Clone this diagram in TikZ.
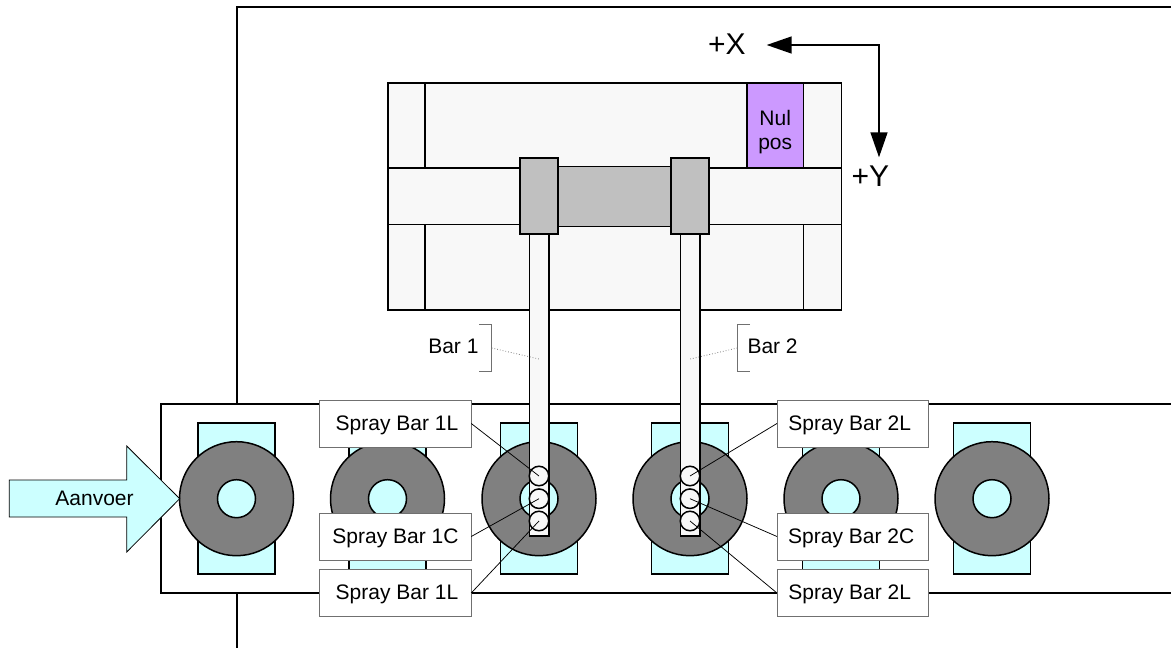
\documentclass[tikz,border=0pt]{standalone}
\usepackage{fontspec}
\setmainfont{Liberation Sans}
\usetikzlibrary{arrows.meta}
\tikzset{
  thick line/.style={line width=1.5pt,draw=black},
  block/.style={thick line,rectangle,inner sep=0pt,outer sep=0pt},
  cyanrect/.style={block,fill=cyanfill,minimum width=77pt,minimum height=151pt},
  disc/.style={thick line,circle,inner sep=0pt,outer sep=0pt,fill=discgray,minimum size=114pt},
  hole/.style={thick line,circle,inner sep=0pt,outer sep=0pt,fill=cyanfill,minimum size=38pt},
  spray/.style={thick line,circle,inner sep=0pt,outer sep=0pt,fill=lightfill,minimum size=19.5pt},
  bar/.style={block,fill=lightfill,minimum width=19.5pt,minimum height=302pt},
  slider/.style={block,fill=slidergray,minimum width=38pt,minimum height=76pt},
  label/.style={rectangle,draw=labelgray,line width=0.9pt,fill=white,inner sep=0pt,outer sep=0pt,minimum width=151.5pt,minimum height=47pt,font=\fontsize{21}{24}\selectfont,text height=15pt,text depth=1.6pt},
  plain/.style={inner sep=0pt,outer sep=0pt,font=\fontsize{21}{24}\selectfont,text height=15pt,text depth=1.6pt},
  axis/.style={inner sep=0pt,outer sep=0pt,font=\fontsize{30}{34}\selectfont},
  leader/.style={line width=0.75pt,draw=black},
  dotleader/.style={line width=0.8pt,draw=gray,dotted},
  brace/.style={line width=0.9pt,draw=labelgray}
}
\definecolor{cyanfill}{HTML}{CCFFFF}
\definecolor{discgray}{HTML}{808080}
\definecolor{lightfill}{HTML}{F8F8F8}
\definecolor{slidergray}{HTML}{C0C0C0}
\definecolor{nulfill}{HTML}{CC99FF}
\definecolor{labelgray}{HTML}{707070}
\begin{document}
\begin{tikzpicture}[x=1pt,y=-1pt]
\useasboundingbox (0,0) rectangle (1171,648);
% frames
\draw[thick line] (237,648) -- (237,7) -- (1171,7);
\draw[thick line,fill=white] (1171,404) -- (161,404) -- (161,593) -- (1171,593);
% cyan rects and discs
\foreach \n/\x in {a/236.5,b/387.5,c/539,d/690,e/841,f/992}{
  \node[cyanrect] (rect\n) at (\x,498.5) {};
  \node[disc] (disc\n) at (\x,498.7) {};
  \node[hole] (hole\n) at (\x,498.7) {};
}
% feed arrow
\draw[line width=0.8pt,draw=black,fill=cyanfill] (9.3,480) -- (126.7,480) -- (126.7,446) -- (179.7,498.7) -- (126.7,552) -- (126.7,517) -- (9.3,517) -- cycle;
\node[plain] (aanvoer) at (94.5,498.5) {Aanvoer};
% table
\node[block,fill=lightfill,minimum width=453.5pt,minimum height=227pt] (table) at (614.75,196.5) {};
\draw[thick line] (425,83) -- (425,167.7);
\draw[thick line] (425,224) -- (425,310);
\draw[thick line] (803.5,224) -- (803.5,310);
\node[block,fill=nulfill,minimum width=56.5pt,minimum height=84.7pt] (nul) at (775.2,125.3) {};
\node[inner sep=0pt,outer sep=0pt,font=\fontsize{21}{24}\selectfont,align=center] (nultext) at (775.2,132.3) {Nul\\pos};
\node[block,fill=lightfill,minimum width=453.5pt,minimum height=56.5pt] (band) at (614.75,196) {};
% bars
\node[bar] (bar1) at (539,385) {};
\node[bar] (bar2) at (690.3,385) {};
% carriage
\node[block,fill=slidergray,minimum width=115pt,minimum height=60pt] (carriage) at (614.5,196.5) {};
\node[slider] (slide1) at (539,196) {};
\node[slider] (slide2) at (690,196) {};
% spray points
\foreach \n/\x in {1/539,2/690}{
  \node[spray] (s\n a) at (\x,476) {};
  \node[spray] (s\n b) at (\x,498.7) {};
  \node[spray] (s\n c) at (\x,521) {};
}
% labels
\node[label] (l1a) at (395.5,423.5) {\hspace*{3pt}Spray Bar 1L};
\node[label] (l1b) at (395.5,536.5) {Spray Bar 1C};
\node[label] (l1c) at (395.5,593) {\hspace*{3pt}Spray Bar 1L};
\node[label] (l2a) at (852.7,423.5) {Spray Bar 2L\hspace*{6pt}};
\node[label] (l2b) at (852.7,536.5) {Spray Bar 2C\hspace*{3pt}};
\node[label] (l2c) at (852.7,593) {Spray Bar 2L\hspace*{6pt}};
\draw[leader] (l1a.east) -- (s1a.center);
\draw[leader] (l1b.east) -- (s1b.center);
\draw[leader] (l1c.east) -- (s1c.center);
\draw[leader] (l2a.west) -- (s2a.center);
\draw[leader] (l2b.west) -- (s2b.center);
\draw[leader] (l2c.west) -- (s2c.center);
% bar captions
\node[plain,anchor=east] (cap1) at (478.5,346.6) {Bar 1};
\node[plain,anchor=west] (cap2) at (747.5,346.6) {Bar 2};
\coordinate (br1) at (491.7,348);
\coordinate (br2) at (737.3,348);
\draw[brace] (479,324) -- (491.7,324) -- (491.7,371) -- (479,371);
\draw[brace] (750,324) -- (737.3,324) -- (737.3,371) -- (750,371);
\draw[dotleader] (br1) -- (bar1.center |- 0,359);
\draw[dotleader] (br2) -- (bar2.center |- 0,359);
% axes
\coordinate (tipx) at (766.7,45);
\coordinate (tipy) at (879,157.3);
\draw[line width=1.5pt,{Triangle[length=25pt,width=17pt]}-{Triangle[length=25pt,width=17pt]}] (tipx) -| (tipy);
\node[axis,anchor=base west] (xlab) at (708,54) {+X};
\node[axis,anchor=base west] (ylab) at (851.5,186) {+Y};
\end{tikzpicture}
\end{document}
